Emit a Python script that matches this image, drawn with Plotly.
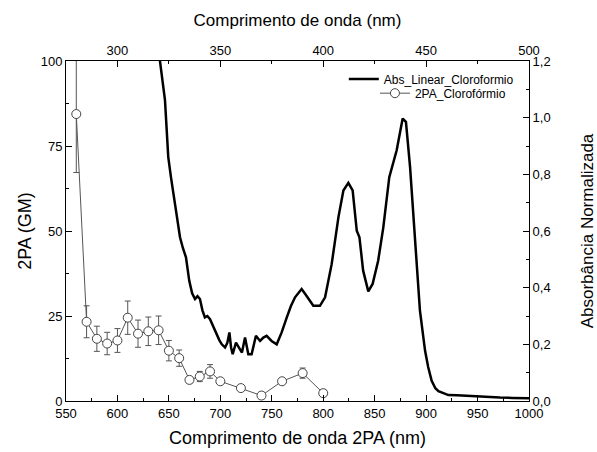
import plotly.graph_objects as go

# Linear absorption (top axis wavelength, nm) and normalized absorbance
abs_wl = [316, 318.5, 320.7, 323.1, 324.7, 326.0, 327.2, 328.8, 330.4, 331.8, 333.3, 334.9, 336.3,
          337.7, 338.9, 340.1, 341.3, 342.5, 343.7, 345.0, 346.6, 348.2, 349.5, 350.7, 352.3,
          353.4, 354.4, 355.2, 356.0, 357.6, 359.2, 360.5, 362.0, 363.6, 365.2, 367.3, 369.3,
          370.9, 372.5, 374.9, 377.4, 379.8, 382.3, 384.3, 386.3, 389.5, 391.0, 392.8, 395.2,
          398.4, 400.9, 404.1, 407.4, 409.8, 412.2, 414.3, 416.3, 417.6, 419.4, 421.9, 424.0,
          426.7, 429.2, 432.1, 434.0, 435.7, 438.6, 440.2, 442.2, 444.6, 447.0, 449.5, 451.0,
          452.7, 454.5, 456.0, 458.4, 460.8, 465.0, 469.7, 474.0, 477.8, 482.0, 485.9, 492.0, 500.0]
abs_val = [1.50, 1.33, 1.198, 1.062, 0.861, 0.790, 0.731, 0.650, 0.578, 0.540, 0.507, 0.424, 0.380,
           0.360, 0.370, 0.360, 0.320, 0.295, 0.300, 0.289, 0.262, 0.236, 0.215, 0.200, 0.189,
           0.205, 0.242, 0.190, 0.165, 0.206, 0.189, 0.171, 0.224, 0.165, 0.165, 0.230, 0.212,
           0.224, 0.230, 0.212, 0.200, 0.242, 0.295, 0.335, 0.366, 0.395, 0.380, 0.360, 0.336,
           0.336, 0.366, 0.483, 0.649, 0.743, 0.770, 0.743, 0.601, 0.578, 0.460, 0.387, 0.413,
           0.495, 0.613, 0.790, 0.840, 0.885, 0.997, 0.985, 0.826, 0.578, 0.319, 0.177, 0.120,
           0.071, 0.045, 0.035, 0.029, 0.021, 0.020, 0.018, 0.016, 0.014, 0.013, 0.012, 0.011, 0.010]

# Two-photon absorption cross-section (bottom axis wavelength, nm)
tpa_wl = [560, 570, 580, 590, 600, 610, 620, 630, 640, 650, 660, 670, 680, 690, 700, 720, 740, 760, 780, 800]
tpa_val = [84.4, 23.3, 18.3, 16.9, 17.8, 24.5, 19.8, 20.5, 20.8, 14.8, 12.6, 6.2, 7.2, 8.7, 5.8, 3.8, 1.6, 5.8, 8.2, 2.3]
tpa_err = [17.2, 4.7, 3.7, 3.3, 3.5, 4.9, 4.0, 4.2, 4.2, 3.0, 2.4, 1.0, 1.5, 2.0, 0.8, 0.6, 1.0, 0.8, 1.5, 1.0]

font_family = "Arial, Liberation Sans, sans-serif"

fig = go.Figure()

fig.add_trace(go.Scatter(
    x=abs_wl, y=abs_val, xaxis="x2", yaxis="y2", mode="lines",
    name="Abs_Linear_Cloroformio",
    line=dict(color="black", width=2.5),
    legend="legend",
))

fig.add_trace(go.Scatter(
    x=tpa_wl, y=tpa_val, mode="lines+markers",
    name="2PA_Clorofórmio",
    line=dict(color="#555555", width=1),
    marker=dict(symbol="circle", size=9, color="white", line=dict(color="#444444", width=1)),
    error_y=dict(type="data", array=tpa_err, visible=True, color="#555555", thickness=1, width=3),
    legend="legend2",
))

axis_common = dict(
    showline=True, linecolor="black", linewidth=1,
    ticks="inside", ticklen=6, tickwidth=1, tickcolor="black",
    showgrid=False, zeroline=False, automargin=False,
    tickfont=dict(size=13, color="black", family=font_family),
)

fig.update_layout(
    width=597, height=452,
    margin=dict(l=66, r=68, t=61, b=51),
    paper_bgcolor="white", plot_bgcolor="white",
    separators=",.",
    showlegend=True,
    font=dict(family=font_family, color="black"),
    xaxis=dict(
        **axis_common, range=[550, 1000], dtick=50, tick0=550,
        minor=dict(ticks="inside", ticklen=3, dtick=25, tickcolor="black"),
        title=dict(text="Comprimento de onda 2PA (nm)", font=dict(size=18), standoff=11),
    ),
    xaxis2=dict(
        **axis_common, range=[275, 500], dtick=50, tick0=300, overlaying="x", side="top",
        minor=dict(ticks="inside", ticklen=3, dtick=25, tickcolor="black"),
        title=dict(text="Comprimento de onda (nm)", font=dict(size=17), standoff=11),
    ),
    yaxis=dict(
        **axis_common, range=[0, 100], dtick=25,
        minor=dict(ticks="inside", ticklen=3, dtick=12.5, tickcolor="black"),
        title=dict(text="2PA (GM)", font=dict(size=18), standoff=4),
    ),
    yaxis2=dict(
        **axis_common, range=[0, 1.2], dtick=0.2, tickformat=".1f", overlaying="y", side="right",
        minor=dict(ticks="inside", ticklen=3, dtick=0.1, tickcolor="black"),
        title=dict(text="Absorbância Normalizada", font=dict(size=17), standoff=34),
    ),
    legend=dict(x=0.978, xanchor="right", y=0.99, yanchor="top", bgcolor="rgba(0,0,0,0)",
                font=dict(size=12), itemwidth=30, tracegroupgap=0),
    legend2=dict(x=0.961, xanchor="right", y=0.948, yanchor="top", bgcolor="rgba(0,0,0,0)",
                 font=dict(size=12), itemwidth=30, tracegroupgap=0),
)

fig.write_html("out.html")
